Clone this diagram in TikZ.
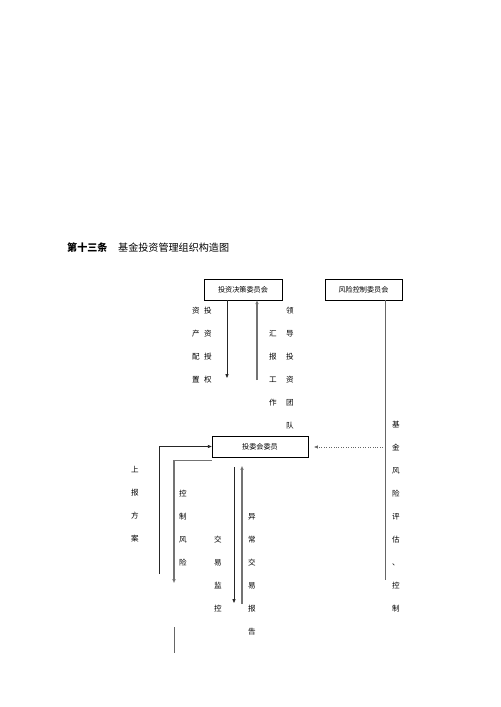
\documentclass[tikz,border=0pt]{standalone}
\usepackage{fontspec}
\newfontfamily\cjk{Noto Sans CJK SC}
\usetikzlibrary{arrows.meta}
\tikzset{
  box/.style={draw, line width=0.6pt, minimum height=25pt, inner sep=0pt, font=\cjk\fontsize{8.5}{10}\selectfont},
  vcol/.style={font=\cjk\fontsize{9}{27.4}\selectfont, align=center, inner sep=0pt, anchor=north},
  arr/.style={-{Triangle[length=4.5pt,width=3.5pt]}, line width=0.9pt, black!85},
  arrg/.style={-{Triangle[length=4.5pt,width=3.5pt]}, line width=1.2pt, black!55},
  lineg/.style={line width=1.1pt, black!60},
}
\begin{document}
\begin{tikzpicture}[x=1.19pt,y=-1.19pt]
	\useasboundingbox (0,0) rectangle (500,707);
	% title
	\node[anchor=west, inner sep=0pt, font=\cjk\bfseries\fontsize{12}{14}\selectfont] (ttl) at (67,248) {第十三条};
	\node[anchor=west, inner sep=0pt, font=\cjk\fontsize{12}{14}\selectfont] (ttlb) at (118,248) {基金投资管理组织构造图};
	% boxes
	\node[box, minimum width=92.8pt] (tz) at (243,289.5) {\raisebox{-4pt}{投资决策委员会}};
	\node[box, minimum width=91.6pt] (fk) at (363.5,289.5) {\raisebox{-4pt}{风险控制委员会}};
	\node[box, minimum width=114.2pt] (wy) at (260,446.5) {\raisebox{-5pt}{投委会委员}};
	% free ends
	\coordinate (d1) at (227,378);
	\coordinate (u1) at (257,380);
	\coordinate (r1) at (385,580);
	\coordinate (dt) at (383,447);
	\coordinate (l1) at (159,574);
	\coordinate (l2) at (174,583);
	\coordinate (d2a) at (234,467);
	\coordinate (d2b) at (234,603);
	\coordinate (u2a) at (242,604);
	\coordinate (u2b) at (242,466);
	\coordinate (b1) at (174,627);
	\coordinate (b2) at (174,653);
	% connectors
	\draw[arr] (d1 |- tz.south) -- (d1);
	\draw[arrg] (u1) -- (u1 |- tz.south);
	\draw[lineg] (r1 |- fk.south) -- (r1);
	\draw[arr, dotted, line width=0.8pt, black!60, shorten >=7pt] (dt) -- (dt -| wy.east);
	\draw[arr] (l1) |- (wy.west);
	\draw[arrg] ([yshift=-3.5pt]wy.south west) -| (l2);
	\draw[arr] (d2a) -- (d2b);
	\draw[arrg] (u2a) -- (u2b);
	\draw[lineg] (b1) -- (b2);
	% labels
	\node[vcol] (zc) at (196,307) {资\\产\\配\\置};
	\node[vcol] (tq) at (208,307) {投\\资\\授\\权};
	\node[vcol] (hb) at (273,330) {汇\\报\\工\\作};
	\node[vcol] (ld) at (290,307) {领\\导\\投\\资\\团\\队};
	\node[vcol] (jj) at (396,421) {基\\金\\风\\险\\评\\估\\、\\控\\制};
	\node[vcol] (sb) at (135,466) {上\\报\\方\\案};
	\node[vcol] (kz) at (183,490) {控\\制\\风\\险};
	\node[vcol] (jy) at (218,536) {交\\易\\监\\控};
	\node[vcol] (yc) at (252,513) {异\\常\\交\\易\\报\\告};
\end{tikzpicture}
\end{document}
